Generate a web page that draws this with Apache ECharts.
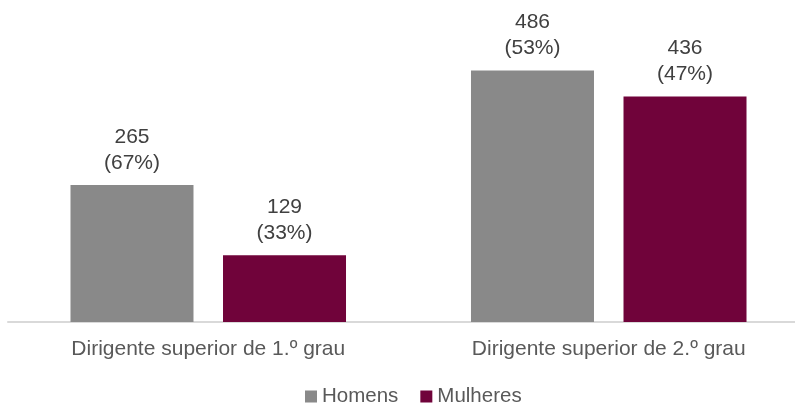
<!DOCTYPE html>
<html>
<head>
<meta charset="utf-8">
<script src="https://cdn.jsdelivr.net/npm/echarts@6/dist/echarts.min.js"></script>
<style>
    html, body { margin: 0; padding: 0; background: #ffffff; }
    #chart { width: 795px; height: 405px; }
</style>
</head>
<body>
<div id="chart"></div>
<script>
    const categories = ['Dirigente superior de 1.º grau', 'Dirigente superior de 2.º grau']
    const homens = [265, 486]
    const mulheres = [129, 436]
    const pctHomens = [67, 53]
    const pctMulheres = [33, 47]

    const chart = echarts.init(document.getElementById('chart'))

    function makeLabel(pcts) {
        return {
            show: true,
            position: 'top',
            distance: 9,
            color: '#404040',
            fontFamily: 'Liberation Sans',
            fontSize: 21,
            lineHeight: 26,
            formatter: function (p) {
                return p.value + '\n(' + pcts[p.dataIndex] + '%)'
            }
        }
    }

    const option = {
        animation: false,
        textStyle: { fontFamily: 'Liberation Sans' },
        legend: {
            top: 386,
            left: 300,
            padding: [0, 5],
            itemWidth: 12,
            itemHeight: 12,
            itemGap: 22,
            icon: 'rect',
            textStyle: { color: '#595959', fontSize: 20.5 },
            data: ['Homens', 'Mulheres']
        },
        grid: {
            left: 8,
            width: 801,
            top: 22,
            bottom: 83,
            outerBoundsMode: 'none'
        },
        xAxis: {
            type: 'category',
            data: categories,
            axisLine: { lineStyle: { color: '#d9d9d9', width: 2 } },
            axisTick: { show: false },
            axisLabel: { color: '#595959', fontSize: 21, margin: 17 }
        },
        yAxis: {
            type: 'value',
            min: 0,
            max: 580,
            show: false,
            splitLine: { show: false }
        },
        series: [
            {
                name: 'Homens',
                type: 'bar',
                data: homens,
                barWidth: 123,
                barGap: '24%',
                itemStyle: { color: '#898989' },
                label: makeLabel(pctHomens)
            },
            {
                name: 'Mulheres',
                type: 'bar',
                data: mulheres,
                barWidth: 123,
                itemStyle: { color: '#70033a' },
                label: makeLabel(pctMulheres)
            }
        ]
    }
    chart.setOption(option)
</script>
</body>
</html>
